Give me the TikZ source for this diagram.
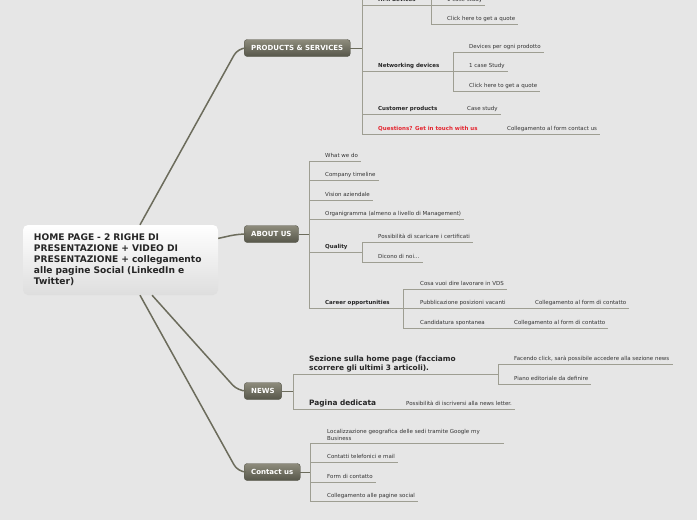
\documentclass[tikz,border=0pt]{standalone}
\usepackage{fontspec}
\setmainfont{DejaVu Sans}
\definecolor{mapbg}{RGB}{230,230,230}
\definecolor{branchcol}{RGB}{108,108,92}
\definecolor{linecol}{RGB}{158,158,146}
\definecolor{topictop}{RGB}{142,140,124}
\definecolor{topicbot}{RGB}{86,86,74}
\definecolor{leaftext}{RGB}{51,51,51}
\definecolor{askred}{RGB}{228,38,48}
\begin{document}
\begin{tikzpicture}[x=1pt, y=-1pt, every node/.style={text=leaftext}]
\tikzset{
  root/.style={rounded corners=5pt, top color=white, middle color=white, bottom color=black!13,
    text width=173pt, inner xsep=11pt, minimum height=70pt, align=left,
    font=\fontsize{9.1}{11}\selectfont\bfseries, text=black!85},
  topic/.style={anchor=west, rounded corners=3pt, top color=topictop, bottom color=topicbot,
    draw=topicbot, line width=0.4pt, inner xsep=7pt, minimum height=17pt,
    font=\fontsize{7}{8}\selectfont\bfseries, text=white},
  leaf/.style={anchor=south west, inner xsep=3pt, inner ysep=2pt, text height=4pt, text depth=1.5pt,
    font=\fontsize{5.5}{6.5}\selectfont},
  leafbold/.style={leaf, font=\fontsize{5.5}{6.5}\selectfont\bfseries, text=black!85},
  leafwrap/.style={anchor=south west, inner xsep=3pt, inner ysep=2.5pt, align=left, text width=174pt,
    font=\fontsize{5.5}{7}\selectfont},
  headbold/.style={anchor=south west, inner xsep=3pt, inner ysep=2pt, align=left,
    font=\fontsize{7.4}{9}\selectfont\bfseries, text=black!85},
  ul/.style={draw=linecol, line width=0.9pt},
  stub/.style={draw=branchcol, line width=1pt},
  branch/.style={draw=branchcol, line width=1.5pt, rounded corners=8pt}
}
\useasboundingbox (0,0) rectangle (697,520);
\fill[mapbg] (0,0) rectangle (697,520);
\clip (0,0) rectangle (697,520);

\node[root] (root) at (120.5,260) {HOME PAGE - 2 RIGHE DI\\PRESENTAZIONE + VIDEO DI\\PRESENTAZIONE + collegamento\\alle pagine Social (LinkedIn e\\Twitter)};

% products & services
\node[topic] (ps) at (244,48) {PRODUCTS \& SERVICES};
\coordinate (psbar) at (362,48);
\coordinate (pstop) at (362,-12);
\node[leafbold] (hmi) at (375,5) {HMI devices};
\coordinate (hmibar) at (431,5);
\coordinate (hmitop) at (431,-12);
\node[leaf] (hmione) at (444,5) {1 case study};
\node[leaf] (hmiquote) at (444,24.5) {Click here to get a quote};
\node[leafbold] (net) at (375,71) {Networking devices};
\coordinate (netbar) at (453,71);
\node[leaf] (netdev) at (466,52) {Devices per ogni prodotto};
\node[leaf] (netcase) at (466,71) {1 case Study};
\node[leaf] (netquote) at (466,91) {Click here to get a quote};
\node[leafbold] (cust) at (375,114) {Customer products};
\node[leaf] (custcase) at (464,114) {Case study};
\node[leafbold, text=askred] (ask) at (375,134) {Questions? Get in touch with us};
\node[leaf] (askform) at (504,134) {Collegamento al form contact us};
\draw[stub] (ps.east) -- (psbar);
\draw[ul] (pstop) -- (psbar |- ask.south);
\draw[ul] (psbar |- hmi.south) -- (hmibar);
\draw[ul] (hmitop) -- (hmibar |- hmiquote.south);
\foreach \nd in {hmione,hmiquote} \draw[ul] (hmibar |- \nd.south) -- (\nd.south east);
\draw[ul] (psbar |- net.south) -- (netbar);
\draw[ul] (netbar |- netdev.south) -- (netbar |- netquote.south);
\foreach \nd in {netdev,netcase,netquote} \draw[ul] (netbar |- \nd.south) -- (\nd.south east);
\draw[ul] (psbar |- cust.south) -- (custcase.south east);
\draw[ul] (psbar |- ask.south) -- (askform.south east);

% about us
\node[topic] (ab) at (244,234) {ABOUT US};
\coordinate (abbar) at (309,234);
\node[leaf] (what) at (322,161) {What we do};
\node[leaf] (timeline) at (322,180) {Company timeline};
\node[leaf] (vision) at (322,200) {Vision aziendale};
\node[leaf] (organi) at (322,219) {Organigramma (almeno a livello di Management)};
\node[leafbold] (quality) at (322,252) {Quality};
\coordinate (qbar) at (362,252);
\node[leaf] (certif) at (375,242) {Possibilità di scaricare i certificati};
\node[leaf] (dicono) at (375,262) {Dicono di noi...};
\node[leafbold] (career) at (322,308) {Career opportunities};
\coordinate (cbar) at (403,308);
\node[leaf] (vds) at (417,289) {Cosa vuoi dire lavorare in VDS};
\node[leaf] (vacanti) at (417,308) {Pubblicazione posizioni vacanti};
\node[leaf] (vacform) at (532,308) {Collegamento al form di contatto};
\node[leaf] (sponta) at (417,328) {Candidatura spontanea};
\node[leaf] (spform) at (511,328) {Collegamento al form di contatto};
\draw[stub] (ab.east) -- (abbar);
\draw[ul] (abbar |- what.south) -- (abbar |- career.south);
\foreach \nd in {what,timeline,vision,organi} \draw[ul] (abbar |- \nd.south) -- (\nd.south east);
\draw[ul] (abbar |- quality.south) -- (qbar);
\draw[ul] (qbar |- certif.south) -- (qbar |- dicono.south);
\foreach \nd in {certif,dicono} \draw[ul] (qbar |- \nd.south) -- (\nd.south east);
\draw[ul] (abbar |- career.south) -- (cbar);
\draw[ul] (cbar |- vds.south) -- (cbar |- sponta.south);
\draw[ul] (cbar |- vds.south) -- (vds.south east);
\draw[ul] (cbar |- vacanti.south) -- (vacform.south east);
\draw[ul] (cbar |- sponta.south) -- (spform.south east);

% news
\node[topic] (news) at (244,391) {NEWS};
\coordinate (nwbar) at (293,391);
\node[headbold, text width=176pt] (sezione) at (306,374) {Sezione sulla home page (facciamo\\scorrere gli ultimi 3 articoli).};
\coordinate (sbar) at (498,374);
\node[leaf] (click) at (511,364) {Facendo click, sarà possibile accedere alla sezione news};
\node[leaf] (piano) at (511,384) {Piano editoriale da definire};
\node[headbold] (pagina) at (306,409) {Pagina dedicata};
\node[leaf] (iscrivi) at (403,409) {Possibilità di iscriversi alla news letter.};
\draw[stub] (news.east) -- (nwbar);
\draw[ul] (nwbar |- sezione.south) -- (nwbar |- pagina.south);
\draw[ul] (nwbar |- sezione.south) -- (sbar);
\draw[ul] (sbar |- click.south) -- (sbar |- piano.south);
\foreach \nd in {click,piano} \draw[ul] (sbar |- \nd.south) -- (\nd.south east);
\draw[ul] (nwbar |- pagina.south) -- (iscrivi.south east);

% contact us
\node[topic] (contact) at (244,472) {Contact us};
\coordinate (ctbar) at (310,472);
\node[leafwrap] (local) at (324,443) {Localizzazione geografica delle sedi tramite Google my\\Business};
\node[leaf] (phone) at (324,462) {Contatti telefonici e mail};
\node[leaf] (form) at (324,482) {Form di contatto};
\node[leaf] (social) at (324,501) {Collegamento alle pagine social};
\draw[stub] (contact.east) -- (ctbar);
\draw[ul] (ctbar |- local.south) -- (ctbar |- social.south);
\foreach \nd in {local,phone,form,social} \draw[ul] (ctbar |- \nd.south) -- (\nd.south east);

% main branches
\draw[branch] (root) -- ([xshift=-6pt]ps.west) -- (ps.west);
\draw[branch] (root) -- ([xshift=-6pt]ab.west) -- (ab.west);
\draw[branch] (root) -- ([xshift=-6pt]news.west) -- (news.west);
\draw[branch] (root) -- ([xshift=-6pt]contact.west) -- (contact.west);
\end{tikzpicture}
\end{document}
